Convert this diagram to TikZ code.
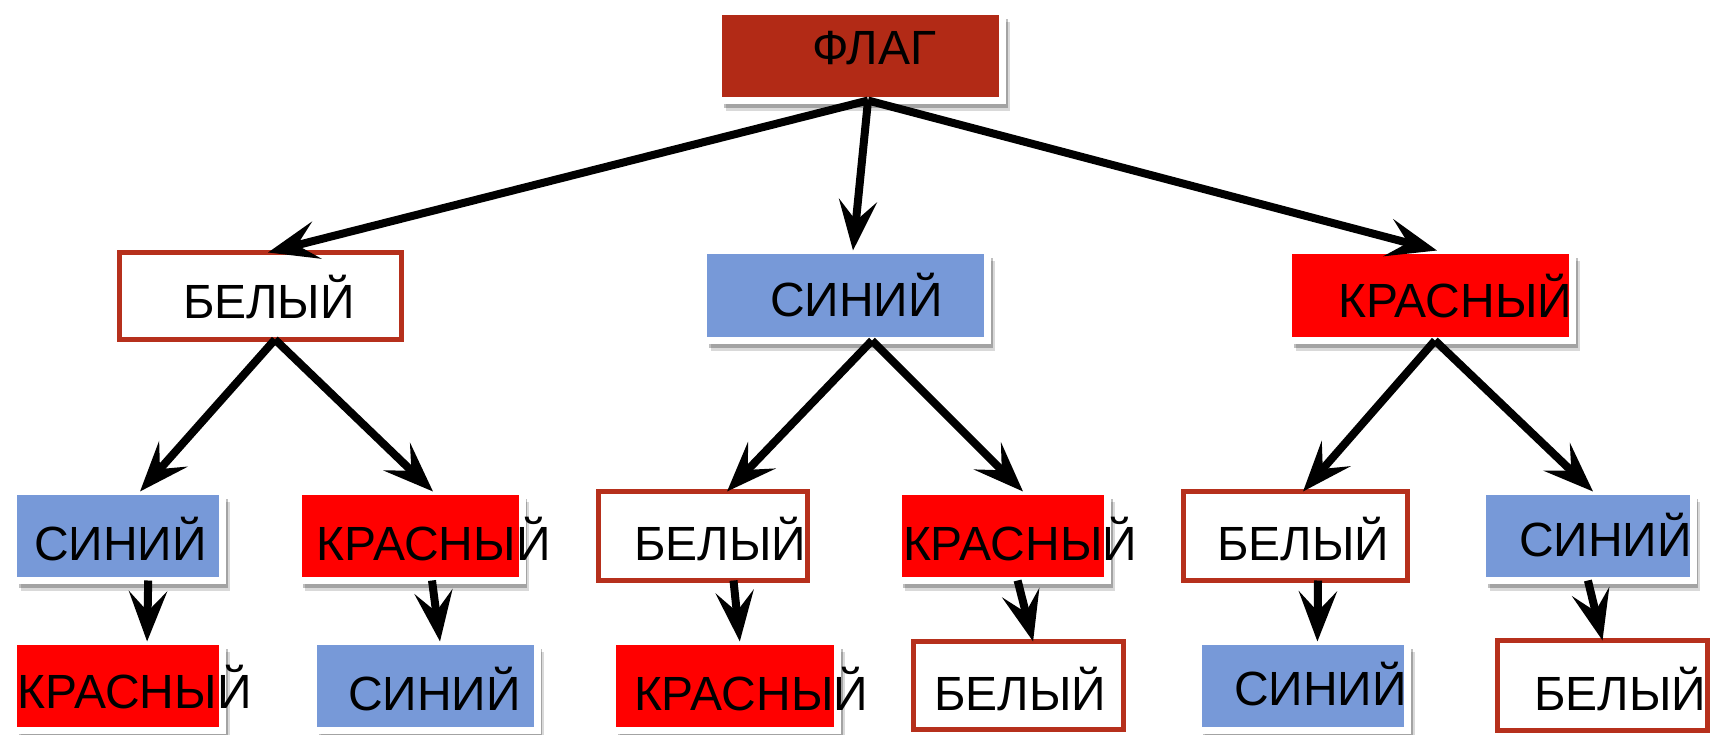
\documentclass[tikz,border=0pt]{standalone}
\usepackage{fontspec}
\setmainfont{Liberation Sans}
\usepackage{tikz}
\usetikzlibrary{arrows.meta,shadows}
\definecolor{flagred}{RGB}{178,42,22}
\definecolor{edgered}{RGB}{182,48,28}
\definecolor{skyblue}{RGB}{119,153,216}
\definecolor{pure red}{RGB}{255,0,0}

\begin{document}
\begin{tikzpicture}[x=0.5pt,y=-0.5pt,-{Stealth[length=25pt,width=19pt,inset=10pt]},line width=4pt]
    \tikzstyle{framed}=[draw=white,line width=3.5pt,outer sep=0pt,inner sep=0pt,
        drop shadow={shadow xshift=3.5pt,shadow yshift=-5pt,opacity=.15,fill=black},
        drop shadow={shadow xshift=2.5pt,shadow yshift=-3.5pt,opacity=.25,fill=black}]
    \tikzstyle{outlined}=[draw=edgered,fill=white,line width=2.5pt,outer sep=0pt,inner sep=0pt]
    \tikzstyle{word}=[anchor=base west,inner sep=0pt,font=\fontsize{24}{28}\selectfont]

    \useasboundingbox (0,0) rectangle (1717,734);

    % level 1 and 2
    \node[framed,fill=flagred,minimum width=142pt,minimum height=44.5pt]  (flag) at (860.5,56)    {};
    \node[outlined,minimum width=141pt,minimum height=43.5pt]             (W)    at (260.5,296)   {};
    \node[framed,fill=skyblue,minimum width=142pt,minimum height=45pt]    (B)    at (845.5,295.5) {};
    \node[framed,fill=pure red,minimum width=142pt,minimum height=45pt]   (R)    at (1430.5,295.5){};

    % level 3
    \node[framed,fill=skyblue,minimum width=104.5pt,minimum height=44.5pt] (WB) at (118,536)    {};
    \node[framed,fill=pure red,minimum width=112pt,minimum height=44.5pt]  (WR) at (410.4,536)  {};
    \node[outlined,minimum width=104.8pt,minimum height=44.5pt]            (BW) at (702.8,536)  {};
    \node[framed,fill=pure red,minimum width=104.85pt,minimum height=44.5pt](BR) at (1003.1,536){};
    \node[outlined,minimum width=112pt,minimum height=44.5pt]              (RW) at (1295.2,536) {};
    \node[framed,fill=skyblue,minimum width=105.1pt,minimum height=44.5pt] (RB) at (1587.9,536) {};

    % level 4
    \node[framed,fill=pure red,minimum width=104.5pt,minimum height=44.5pt] (WBR) at (118,686)     {};
    \node[framed,fill=skyblue,minimum width=111.9pt,minimum height=44.5pt]  (WRB) at (425.5,686)   {};
    \node[framed,fill=pure red,minimum width=112.65pt,minimum height=44.5pt](BWR) at (725.3,686)   {};
    \node[outlined,minimum width=104.8pt,minimum height=44pt]               (BRW) at (1018.3,685.5){};
    \node[framed,fill=skyblue,minimum width=104.75pt,minimum height=44.5pt] (RWB) at (1303,686)    {};
    \node[outlined,minimum width=104.75pt,minimum height=45pt]              (RBW) at (1602.5,685.5){};

    % texts
    \node[word] (flag-t) at (808,64)   {ФЛАГ};
    \node[word] (W-t)    at (179,318)  {БЕЛЫЙ};
    \node[word] (B-t)    at (766,316)  {СИНИЙ};
    \node[word] (R-t)    at (1334,317) {КРАСНЫЙ};
    \node[word] (WB-t)   at (30,560)   {СИНИЙ};
    \node[word] (WR-t)   at (312.5,560){КРАСНЫЙ};
    \node[word] (BW-t)   at (630,560)  {БЕЛЫЙ};
    \node[word] (BR-t)   at (899,560)  {КРАСНЫЙ};
    \node[word] (RW-t)   at (1213,560) {БЕЛЫЙ};
    \node[word] (RB-t)   at (1515,556) {СИНИЙ};
    \node[word] (WBR-t)  at (13.5,708) {КРАСНЫЙ};
    \node[word] (WRB-t)  at (344,710)  {СИНИЙ};
    \node[word] (BWR-t)  at (630,710)  {КРАСНЫЙ};
    \node[word] (BRW-t)  at (930,710)  {БЕЛЫЙ};
    \node[word] (RWB-t)  at (1230,705) {СИНИЙ};
    \node[word] (RBW-t)  at (1530,710) {БЕЛЫЙ};

    \path ([xshift=3.75pt]flag.south) edge ([xshift=3.75pt]W.north)
                                      edge ([xshift=3.75pt]B.north)
                                      edge ([xshift=3.25pt]R.north);
    \path ([xshift=7.25pt]W.south)  edge ([xshift=11pt]WB.north)
                                    edge ([xshift=11.3pt]WR.north);
    \path ([xshift=13.25pt]B.south) edge ([xshift=12.1pt]BW.north)
                                    edge ([xshift=9.95pt]BR.north);
    \path ([xshift=2.25pt]R.south)  edge ([xshift=3.9pt]RW.north)
                                    edge ([xshift=2.55pt]RB.north);

    \path ([xshift=15.1pt]WB.south)  edge ([xshift=14.55pt]WBR.north);
    \path ([xshift=10.8pt]WR.south)  edge ([xshift=7.25pt]WRB.north);
    \path ([xshift=15.35pt]BW.south) edge ([xshift=7.25pt]BWR.north);
    \path ([xshift=7.25pt]BR.south)  edge ([xshift=7.4pt]BRW.north);
    \path ([xshift=11.4pt]RW.south)  edge ([xshift=7.2pt]RWB.north);
    \path (RB.south)                 edge (RBW.north);
\end{tikzpicture}
\end{document}
